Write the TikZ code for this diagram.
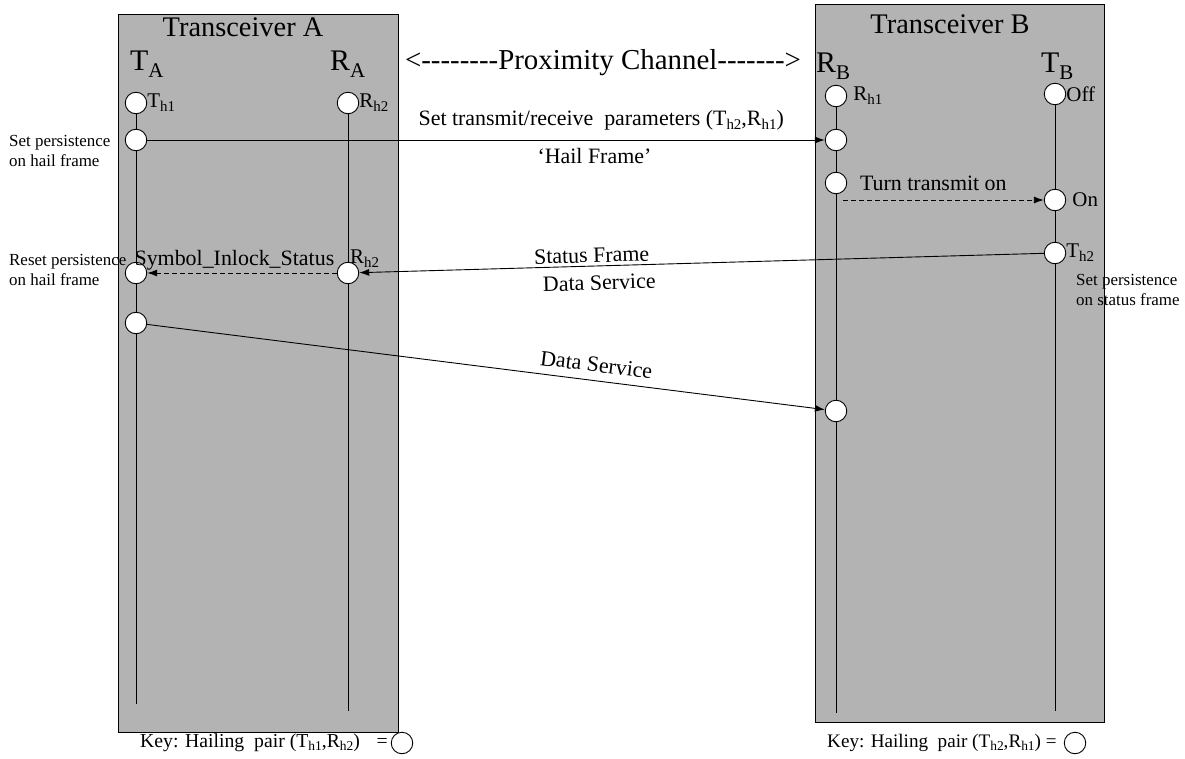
\documentclass[tikz,border=0pt]{standalone}
\usepackage{fontspec}
\setmainfont{Liberation Serif}
\newfontfamily\nolig{Liberation Serif}
\usetikzlibrary{arrows.meta}
\definecolor{boxgray}{RGB}{179,179,179}
\newcommand{\Bsub}[2]{{\fontsize{30}{30}\selectfont #1}\raisebox{-7bp}{\fontsize{21}{21}\selectfont #2}}
\newcommand{\ssub}[2]{#1\raisebox{-4bp}{\fontsize{15}{15}\selectfont #2}}
\newcommand{\ksub}[2]{#1\raisebox{-3bp}{\fontsize{13.5}{14}\selectfont #2}}
\begin{document}
\begin{tikzpicture}[x=1bp,y=-1bp,
  box/.style={draw, fill=boxgray, line width=1.1bp, inner sep=0pt, anchor=north west},
  pt/.style={circle, draw, fill=white, minimum size=21.5bp, inner sep=0pt, line width=0.9bp},
  clbl/.style={font=\fontsize{21}{24}\selectfont, inner sep=0pt},
  lbl/.style={font=\fontsize{22}{26}\selectfont, inner sep=3bp},
  title/.style={font=\fontsize{28.5}{30}\selectfont, inner sep=0pt},
  msg/.style={-{Latex[length=10bp,width=7bp]}, line width=0.9bp},
  dsh/.style={dash pattern=on 5bp off 3bp},
  life/.style={line width=0.9bp},
  note/.style={font=\fontsize{17}{20}\selectfont, align=left, inner sep=0pt},
  keyf/.style={font=\fontsize{19.8}{24}\selectfont, inner sep=0pt}]
\useasboundingbox (0,0) rectangle (1185,759);
% boxes
\node[box, minimum width=280bp, minimum height=718bp] (boxA) at (118,14) {};
\node[box, minimum width=289bp, minimum height=718bp] (boxB) at (815,4) {};
% titles
\node[title, anchor=base] (tA) at (243,37) {Transceiver A};
\node[title, anchor=base] (tB) at (950,34) {Transceiver B};
\node[anchor=base west, inner sep=0pt] (TA) at (130,71) {\Bsub{T}{A}};
\node[anchor=base west, inner sep=0pt] (RA) at (330,71) {\Bsub{R}{A}};
\node[anchor=base west, inner sep=0pt] (RB) at (816,73) {\Bsub{R}{B}};
\node[anchor=base west, inner sep=0pt] (TB) at (1041,73) {\Bsub{T}{B}};
\node[anchor=base, font=\nolig\fontsize{29}{30}\selectfont, inner sep=0pt] (prox) at (603,70) {<--------Proximity Channel------->};
% lifeline circles
\node[pt, label={[clbl]right:\ssub{T}{h1}}] (ta1) at (136,103) {};
\node[pt] (ta2) at (136,140) {};
\node[pt] (ta3) at (136,273) {};
\node[pt] (ta4) at (136,323) {};
\coordinate (taend) at (136,704);
\node[pt, label={[clbl]right:\ssub{R}{h2}}] (ra1) at (348,103) {};
\node[pt] (ra2) at (348,273) {};
\coordinate (raend) at (348,711);
\node[pt, label={[clbl, label distance=6bp]right:\ssub{R}{h1}}] (rb1) at (836,96) {};
\node[pt] (rb2) at (836,140) {};
\node[pt] (rb3) at (836,183) {};
\node[pt] (rb4) at (836,411) {};
\coordinate (rbend) at (836,713);
\node[pt, label={[clbl]right:Off}] (tb1) at (1055,94) {};
\node[pt, label={[clbl, label distance=6bp]right:On}] (tb2) at (1055,200) {};
\node[pt, label={[clbl]right:\ssub{T}{h2}}] (tb3) at (1055,253) {};
\coordinate (tbend) at (1055,711);
% lifelines
\draw[life] (ta1) -- (ta2) -- (ta3) -- (ta4) -- (taend);
\draw[life] (ra1) -- (ra2) -- (raend);
\draw[life] (rb1) -- (rb2) -- (rb3) -- (rb4) -- (rbend);
\draw[life] (tb1) -- (tb2) -- (tb3) -- (tbend);
% messages
\draw[msg] (ta2) -- node[lbl, above, pos=0.67, inner sep=9bp]{Set transmit/receive\ \ parameters (\ssub{T}{h2},\ssub{R}{h1})}
  node[lbl, below, pos=0.66, inner sep=8bp]{‘Hail Frame’} (rb2);
\coordinate (tto) at (843,200);
\draw[msg, dsh] (tto) -- node[lbl, above, pos=0.45, inner sep=9bp]{Turn transmit\ on} (tb2);
\draw[msg] (tb3) -- node[lbl, above, sloped, pos=0.66]{Status Frame}
  node[lbl, below, sloped, pos=0.65, inner sep=9bp]{Data Service} (ra2);
\draw[msg, dsh] (ra2) -- node[lbl, above, pos=0.54, inner sep=2bp]{Symbol\_Inlock\_Status} (ta3);
\node[clbl, anchor=base west] (rh2b) at (350,263) {\ssub{R}{h2}};
\draw[msg] (ta4) -- node[lbl, above, sloped, pos=0.66, inner sep=8bp]{Data Service} (rb4);
% notes
\node[note, anchor=west] (n1) at (9,151) {Set persistence\\on hail frame};
\node[note, anchor=west] (n2) at (9,270) {Reset persistence\\on hail frame};
\node[note, anchor=west] (n3) at (1076,290) {Set persistence\\on status frame};
% keys
\node[keyf, anchor=west] (k1) at (140,743) {Key: Hailing\ \ pair (\ksub{T}{h1},\ksub{R}{h2})\ \ \ \kern2bp=};
\node[pt] (kc1) at (402,743) {};
\node[keyf, anchor=west, font=\fontsize{19.2}{24}\selectfont] (k2) at (827,743) {Key: Hailing\ \ pair (\ksub{T}{h2},\ksub{R}{h1}) =};
\node[pt] (kc2) at (1075,743) {};
\end{tikzpicture}
\end{document}
